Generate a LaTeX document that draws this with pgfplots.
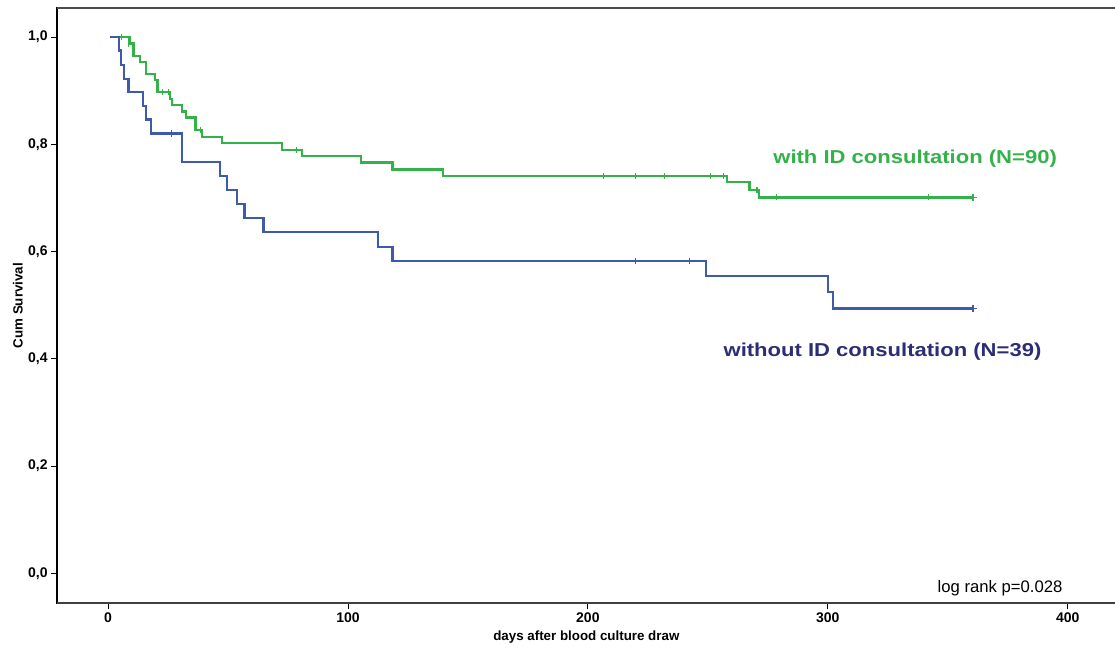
\documentclass[border=0pt]{standalone}
\usepackage{fontspec}
\setmainfont{Liberation Sans}
\newfontfamily\widebold[FakeStretch=1.18]{Liberation Sans}
\usepackage{pgfplots}
\pgfplotsset{compat=1.18}
\definecolor{kmgreen}{RGB}{52,178,74}
\definecolor{kmblue}{RGB}{61,90,171}
\definecolor{kmnavy}{RGB}{43,45,117}
\begin{document}
\begin{tikzpicture}
\begin{axis}[
  name=ax,
  scale only axis,
  width=793.5pt, height=446.25pt,
  xmin=-21.27, xmax=420.0,
  ymin=-0.056, ymax=1.0541,
  xtick={0,100,200,300,400},
  ytick={0,0.2,0.4,0.6,0.8,1.0},
  xtick pos=bottom, ytick pos=left,
  tick align=outside,
  major tick length=4.5pt,
  tick style={black, line width=0.6pt},
  axis line style={black, line width=0.8pt},
  /pgf/number format/assume math mode=true,
  yticklabel style={/pgf/number format/fixed, /pgf/number format/fixed zerofill, /pgf/number format/precision=1, /pgf/number format/use comma, xshift=1pt},
  ticklabel style={font=\fontsize{10.5pt}{12pt}\selectfont\bfseries},
  xticklabel style={yshift=1pt},
  xlabel={days after blood culture draw},
  ylabel={Cum Survival},
  label style={font=\fontsize{10pt}{11pt}\selectfont\bfseries},
  xlabel style={at={(axis description cs:0.5,-0.0571)}, anchor=center},
  ylabel style={at={(axis description cs:-0.0369,0.5)}, anchor=center},
  clip=false,
]
% green: with ID consultation
\addplot[const plot, color=kmgreen, line width=1.7pt] coordinates {
(0.8,1.0)(8.9,0.988)(10.6,0.965)(13.3,0.954)(15.7,0.931)(19.6,0.920)(20.6,0.897)
(25.9,0.884)(26.6,0.873)(30.7,0.861)(32.5,0.850)(36.5,0.826)(39.3,0.814)(47.4,0.802)
(72.6,0.789)(80.8,0.778)(105.5,0.766)(118.6,0.753)(139.7,0.741)(258.0,0.729)
(267.4,0.715)(271.2,0.701)(360.6,0.701)};
\addplot[only marks, mark=|, mark size=2.3pt, color=kmgreen, mark options={line width=0.8pt}] coordinates {
(5.7,1.0)(8.4,0.988)(22.6,0.897)(25.3,0.897)(38.4,0.826)(78.7,0.789)
(206.5,0.741)(220.0,0.741)(232.0,0.741)(251.3,0.741)(256.4,0.741)(270.5,0.715)
(278.5,0.701)(342.0,0.701)};
\addplot[only marks, mark=+, mark size=2.8pt, color=kmgreen, mark options={line width=1.3pt}] coordinates {(360.6,0.701)};
% blue: without ID consultation
\addplot[const plot, color=kmblue, line width=1.7pt] coordinates {
(0.8,1.0)(4.6,0.975)(5.4,0.948)(6.7,0.922)(8.5,0.898)(14.7,0.871)(15.7,0.846)
(17.8,0.820)(30.7,0.767)(46.7,0.741)(49.5,0.715)(53.7,0.688)(56.9,0.662)
(64.8,0.636)(112.5,0.609)(118.6,0.583)(249.3,0.554)(300.2,0.524)(302.3,0.494)
(360.6,0.494)};
\addplot[only marks, mark=|, mark size=2.3pt, color=kmblue, mark options={line width=0.8pt}] coordinates {
(26.5,0.820)(220.0,0.583)(242.3,0.583)};
\addplot[only marks, mark=+, mark size=2.8pt, color=kmblue, mark options={line width=1.3pt}] coordinates {(360.6,0.494)};
% heavy bottom axis line and top line
\draw[line width=1.4pt, black!75] (rel axis cs:0,0) -- (rel axis cs:1,0);
\draw[line width=1.0pt, black!70] (rel axis cs:0,1) -- (rel axis cs:1,1);
% annotations
\node[anchor=center, text=kmgreen, font=\fontsize{14pt}{16pt}\selectfont\widebold\bfseries] at (axis cs:336.4,0.774) {with ID consultation (N=90)};
\node[anchor=center, text=kmnavy, font=\fontsize{14pt}{16pt}\selectfont\widebold\bfseries] at (axis cs:322.8,0.414) {without ID consultation (N=39)};
\node[anchor=base east, inner sep=0pt, font=\fontsize{12.5pt}{14pt}\selectfont] at (axis cs:397.9,-0.0349) {log rank p=0.028};
\end{axis}
\pgfresetboundingbox
\path ([xshift=-42.75pt,yshift=-37.5pt]ax.south west) rectangle ([xshift=-0.5pt,yshift=6pt]ax.north east);
\end{tikzpicture}
\end{document}
